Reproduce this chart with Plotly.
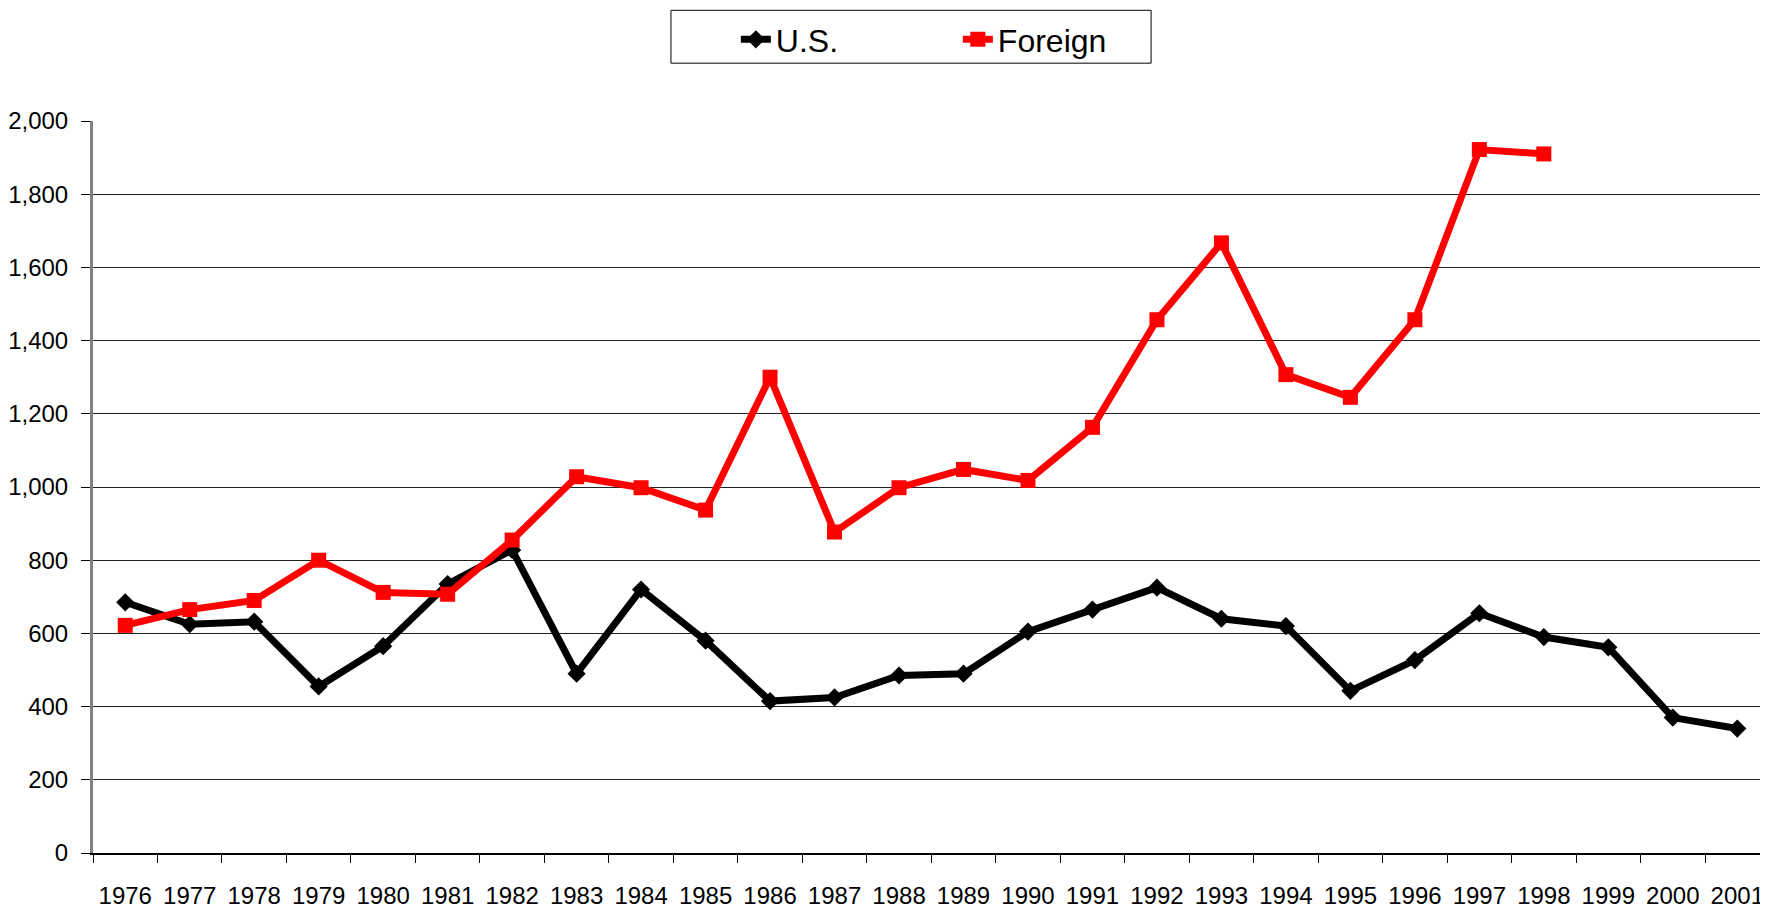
import plotly.graph_objects as go

years = [str(y) for y in range(1976, 2002)]
us_values = [685, 625, 632, 455, 565, 735, 828, 490, 720, 580, 415, 425, 485, 490,
             605, 665, 725, 640, 620, 443, 527, 655, 590, 562, 370, 340]
foreign_years = [str(y) for y in range(1976, 1999)]
foreign_values = [622, 665, 690, 800, 712, 707, 855, 1028, 998, 937, 1300, 877, 998, 1048,
                  1018, 1163, 1457, 1667, 1307, 1245, 1457, 1922, 1910]
y_ticks = [0, 200, 400, 600, 800, 1000, 1200, 1400, 1600, 1800, 2000]

FONT = "Liberation Sans, Arial, sans-serif"

fig = go.Figure()
fig.add_trace(go.Scatter(
    x=years, y=us_values, name="U.S.", mode="lines+markers",
    line=dict(color="black", width=7),
    marker=dict(symbol="diamond", size=14, color="black"),
))
fig.add_trace(go.Scatter(
    x=foreign_years, y=foreign_values, name="Foreign", mode="lines+markers",
    line=dict(color="#ff0000", width=7),
    marker=dict(symbol="square", size=15, color="#ff0000"),
))

# legend frame (page body has an 8px margin; plot area spans 93..1768 x, 121..855 y in window px)
def px_x(X):
    return (X - 93) / 1675.0

def px_y(Y):
    return (855 - Y) / 734.0

fig.add_shape(type="rect", xref="paper", yref="paper",
              x0=px_x(672), x1=px_x(1153), y0=px_y(63), y1=px_y(10),
              line=dict(color="black", width=1), fillcolor="white", layer="below")

fig.update_layout(
    width=1760, height=901,
    margin=dict(l=85, r=0, t=113, b=54),
    paper_bgcolor="white", plot_bgcolor="white",
    font=dict(family=FONT, size=24, color="black"),
    showlegend=True,
    legend=dict(
        orientation="h", x=px_x(737), xanchor="left",
        yref="container", y=1 - 4 / 901, yanchor="top",
        borderwidth=0,
        font=dict(family=FONT, size=32, color="black"),
        entrywidth=177,
        bgcolor="rgba(0,0,0,0)",
    ),
    xaxis=dict(
        type="category", range=[-0.5, 25.43],
        tickson="boundaries", ticks="outside", ticklen=8, tickcolor="black",
        showline=True, linecolor="black", linewidth=2,
        showgrid=False, ticklabelstandoff=20,
        tickfont=dict(family=FONT, size=24),
    ),
    yaxis=dict(
        range=[0, 2000], tickvals=y_ticks, tickformat=",d",
        ticks="outside", ticklen=9, tickcolor="black",
        showline=True, linecolor="#808080", linewidth=3, mirror=True,
        showgrid=True, gridcolor="#222222", gridwidth=1,
        zeroline=False, ticklabelstandoff=8,
        tickfont=dict(family=FONT, size=24),
    ),
)

fig.write_html("out.html")
